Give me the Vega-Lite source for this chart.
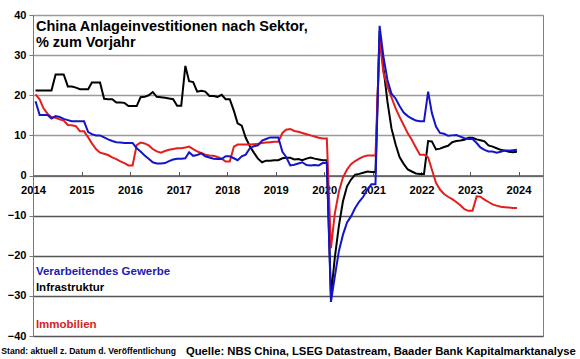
{
"$schema": "https://vega.github.io/schema/vega-lite/v6.json",
"width": 510, "height": 321,
"autosize": {"type": "none"},
"padding": {"left": 33, "top": 15, "right": 37, "bottom": 23},
"background": "white",
"config": {"view": {"stroke": "#808080", "strokeWidth": 1}, "font": "Liberation Sans"},
"datasets": {
"fai": [
{"date":"2014-01-20","sector":"Infrastruktur","pct":21.2},{"date":"2014-02-20","sector":"Infrastruktur","pct":21.2},{"date":"2014-03-20","sector":"Infrastruktur","pct":21.2},{"date":"2014-04-20","sector":"Infrastruktur","pct":21.2},{"date":"2014-05-20","sector":"Infrastruktur","pct":21.2},{"date":"2014-06-20","sector":"Infrastruktur","pct":25.2},{"date":"2014-07-20","sector":"Infrastruktur","pct":25.2},{"date":"2014-08-20","sector":"Infrastruktur","pct":25.2},{"date":"2014-09-20","sector":"Infrastruktur","pct":22.2},{"date":"2014-10-20","sector":"Infrastruktur","pct":22.2},{"date":"2014-11-20","sector":"Infrastruktur","pct":21.9},{"date":"2014-12-20","sector":"Infrastruktur","pct":21.5},
{"date":"2015-01-20","sector":"Infrastruktur","pct":21.5},{"date":"2015-02-20","sector":"Infrastruktur","pct":21.5},{"date":"2015-03-20","sector":"Infrastruktur","pct":23.2},{"date":"2015-04-20","sector":"Infrastruktur","pct":23.2},{"date":"2015-05-20","sector":"Infrastruktur","pct":23.2},{"date":"2015-06-20","sector":"Infrastruktur","pct":19.1},{"date":"2015-07-20","sector":"Infrastruktur","pct":19.0},{"date":"2015-08-20","sector":"Infrastruktur","pct":19.0},{"date":"2015-09-20","sector":"Infrastruktur","pct":18.2},{"date":"2015-10-20","sector":"Infrastruktur","pct":18.2},{"date":"2015-11-20","sector":"Infrastruktur","pct":18.1},{"date":"2015-12-20","sector":"Infrastruktur","pct":17.3},
{"date":"2016-01-20","sector":"Infrastruktur","pct":17.3},{"date":"2016-02-20","sector":"Infrastruktur","pct":17.3},{"date":"2016-03-20","sector":"Infrastruktur","pct":19.5},{"date":"2016-04-20","sector":"Infrastruktur","pct":19.6},{"date":"2016-05-20","sector":"Infrastruktur","pct":20.0},{"date":"2016-06-20","sector":"Infrastruktur","pct":20.8},{"date":"2016-07-20","sector":"Infrastruktur","pct":19.6},{"date":"2016-08-20","sector":"Infrastruktur","pct":19.5},{"date":"2016-09-20","sector":"Infrastruktur","pct":19.4},{"date":"2016-10-20","sector":"Infrastruktur","pct":19.2},{"date":"2016-11-20","sector":"Infrastruktur","pct":19.0},{"date":"2016-12-20","sector":"Infrastruktur","pct":17.4},
{"date":"2017-01-20","sector":"Infrastruktur","pct":17.4},{"date":"2017-02-20","sector":"Infrastruktur","pct":27.3},{"date":"2017-03-20","sector":"Infrastruktur","pct":23.5},{"date":"2017-04-20","sector":"Infrastruktur","pct":23.3},{"date":"2017-05-20","sector":"Infrastruktur","pct":20.9},{"date":"2017-06-20","sector":"Infrastruktur","pct":21.1},{"date":"2017-07-20","sector":"Infrastruktur","pct":20.9},{"date":"2017-08-20","sector":"Infrastruktur","pct":19.8},{"date":"2017-09-20","sector":"Infrastruktur","pct":19.8},{"date":"2017-10-20","sector":"Infrastruktur","pct":19.6},{"date":"2017-11-20","sector":"Infrastruktur","pct":20.1},{"date":"2017-12-20","sector":"Infrastruktur","pct":19.0},
{"date":"2018-01-20","sector":"Infrastruktur","pct":19.0},{"date":"2018-02-20","sector":"Infrastruktur","pct":16.1},{"date":"2018-03-20","sector":"Infrastruktur","pct":13.0},{"date":"2018-04-20","sector":"Infrastruktur","pct":12.4},{"date":"2018-05-20","sector":"Infrastruktur","pct":9.4},{"date":"2018-06-20","sector":"Infrastruktur","pct":7.3},{"date":"2018-07-20","sector":"Infrastruktur","pct":5.7},{"date":"2018-08-20","sector":"Infrastruktur","pct":4.2},{"date":"2018-09-20","sector":"Infrastruktur","pct":3.3},{"date":"2018-10-20","sector":"Infrastruktur","pct":3.7},{"date":"2018-11-20","sector":"Infrastruktur","pct":3.7},{"date":"2018-12-20","sector":"Infrastruktur","pct":3.8},
{"date":"2019-01-20","sector":"Infrastruktur","pct":3.8},{"date":"2019-02-20","sector":"Infrastruktur","pct":4.3},{"date":"2019-03-20","sector":"Infrastruktur","pct":4.4},{"date":"2019-04-20","sector":"Infrastruktur","pct":4.4},{"date":"2019-05-20","sector":"Infrastruktur","pct":4.0},{"date":"2019-06-20","sector":"Infrastruktur","pct":4.1},{"date":"2019-07-20","sector":"Infrastruktur","pct":3.8},{"date":"2019-08-20","sector":"Infrastruktur","pct":4.2},{"date":"2019-09-20","sector":"Infrastruktur","pct":4.5},{"date":"2019-10-20","sector":"Infrastruktur","pct":4.2},{"date":"2019-11-20","sector":"Infrastruktur","pct":4.0},{"date":"2019-12-20","sector":"Infrastruktur","pct":3.8},
{"date":"2020-01-20","sector":"Infrastruktur","pct":3.8},{"date":"2020-02-20","sector":"Infrastruktur","pct":-30.0},{"date":"2020-03-20","sector":"Infrastruktur","pct":-20.5},{"date":"2020-04-20","sector":"Infrastruktur","pct":-12.5},{"date":"2020-05-20","sector":"Infrastruktur","pct":-6.5},{"date":"2020-06-20","sector":"Infrastruktur","pct":-2.7},{"date":"2020-07-20","sector":"Infrastruktur","pct":-1.0},{"date":"2020-08-20","sector":"Infrastruktur","pct":0.2},{"date":"2020-09-20","sector":"Infrastruktur","pct":0.4},{"date":"2020-10-20","sector":"Infrastruktur","pct":0.7},{"date":"2020-11-20","sector":"Infrastruktur","pct":1.0},{"date":"2020-12-20","sector":"Infrastruktur","pct":0.9},
{"date":"2021-01-20","sector":"Infrastruktur","pct":0.9},{"date":"2021-02-20","sector":"Infrastruktur","pct":36.0},{"date":"2021-03-20","sector":"Infrastruktur","pct":27.0},{"date":"2021-04-20","sector":"Infrastruktur","pct":18.4},{"date":"2021-05-20","sector":"Infrastruktur","pct":11.8},{"date":"2021-06-20","sector":"Infrastruktur","pct":7.8},{"date":"2021-07-20","sector":"Infrastruktur","pct":4.6},{"date":"2021-08-20","sector":"Infrastruktur","pct":2.9},{"date":"2021-09-20","sector":"Infrastruktur","pct":1.5},{"date":"2021-10-20","sector":"Infrastruktur","pct":1.0},{"date":"2021-11-20","sector":"Infrastruktur","pct":0.5},{"date":"2021-12-20","sector":"Infrastruktur","pct":0.4},
{"date":"2022-01-20","sector":"Infrastruktur","pct":0.4},{"date":"2022-02-20","sector":"Infrastruktur","pct":8.6},{"date":"2022-03-20","sector":"Infrastruktur","pct":8.5},{"date":"2022-04-20","sector":"Infrastruktur","pct":6.5},{"date":"2022-05-20","sector":"Infrastruktur","pct":6.7},{"date":"2022-06-20","sector":"Infrastruktur","pct":7.1},{"date":"2022-07-20","sector":"Infrastruktur","pct":7.4},{"date":"2022-08-20","sector":"Infrastruktur","pct":8.3},{"date":"2022-09-20","sector":"Infrastruktur","pct":8.6},{"date":"2022-10-20","sector":"Infrastruktur","pct":8.7},{"date":"2022-11-20","sector":"Infrastruktur","pct":8.9},{"date":"2022-12-20","sector":"Infrastruktur","pct":9.4},
{"date":"2023-01-20","sector":"Infrastruktur","pct":9.4},{"date":"2023-02-20","sector":"Infrastruktur","pct":9.0},{"date":"2023-03-20","sector":"Infrastruktur","pct":8.8},{"date":"2023-04-20","sector":"Infrastruktur","pct":8.5},{"date":"2023-05-20","sector":"Infrastruktur","pct":7.5},{"date":"2023-06-20","sector":"Infrastruktur","pct":7.2},{"date":"2023-07-20","sector":"Infrastruktur","pct":6.8},{"date":"2023-08-20","sector":"Infrastruktur","pct":6.4},{"date":"2023-09-20","sector":"Infrastruktur","pct":6.2},{"date":"2023-10-20","sector":"Infrastruktur","pct":5.9},{"date":"2023-11-20","sector":"Infrastruktur","pct":5.8},{"date":"2023-12-20","sector":"Infrastruktur","pct":5.9},
{"date":"2014-01-20","sector":"Immobilien","pct":20.2},{"date":"2014-02-20","sector":"Immobilien","pct":19.0},{"date":"2014-03-20","sector":"Immobilien","pct":16.8},{"date":"2014-04-20","sector":"Immobilien","pct":15.4},{"date":"2014-05-20","sector":"Immobilien","pct":14.6},{"date":"2014-06-20","sector":"Immobilien","pct":14.4},{"date":"2014-07-20","sector":"Immobilien","pct":14.0},{"date":"2014-08-20","sector":"Immobilien","pct":13.7},{"date":"2014-09-20","sector":"Immobilien","pct":12.6},{"date":"2014-10-20","sector":"Immobilien","pct":12.5},{"date":"2014-11-20","sector":"Immobilien","pct":12.3},{"date":"2014-12-20","sector":"Immobilien","pct":11.0},
{"date":"2015-01-20","sector":"Immobilien","pct":11.0},{"date":"2015-02-20","sector":"Immobilien","pct":9.5},{"date":"2015-03-20","sector":"Immobilien","pct":8.0},{"date":"2015-04-20","sector":"Immobilien","pct":6.6},{"date":"2015-05-20","sector":"Immobilien","pct":5.7},{"date":"2015-06-20","sector":"Immobilien","pct":5.4},{"date":"2015-07-20","sector":"Immobilien","pct":5.1},{"date":"2015-08-20","sector":"Immobilien","pct":4.5},{"date":"2015-09-20","sector":"Immobilien","pct":4.1},{"date":"2015-10-20","sector":"Immobilien","pct":3.5},{"date":"2015-11-20","sector":"Immobilien","pct":3.1},{"date":"2015-12-20","sector":"Immobilien","pct":2.5},
{"date":"2016-01-20","sector":"Immobilien","pct":2.5},{"date":"2016-02-20","sector":"Immobilien","pct":7.6},{"date":"2016-03-20","sector":"Immobilien","pct":8.2},{"date":"2016-04-20","sector":"Immobilien","pct":8.0},{"date":"2016-05-20","sector":"Immobilien","pct":7.5},{"date":"2016-06-20","sector":"Immobilien","pct":6.6},{"date":"2016-07-20","sector":"Immobilien","pct":6.0},{"date":"2016-08-20","sector":"Immobilien","pct":5.7},{"date":"2016-09-20","sector":"Immobilien","pct":6.1},{"date":"2016-10-20","sector":"Immobilien","pct":6.4},{"date":"2016-11-20","sector":"Immobilien","pct":6.6},{"date":"2016-12-20","sector":"Immobilien","pct":6.8},
{"date":"2017-01-20","sector":"Immobilien","pct":6.8},{"date":"2017-02-20","sector":"Immobilien","pct":7.0},{"date":"2017-03-20","sector":"Immobilien","pct":7.2},{"date":"2017-04-20","sector":"Immobilien","pct":6.6},{"date":"2017-05-20","sector":"Immobilien","pct":6.0},{"date":"2017-06-20","sector":"Immobilien","pct":5.6},{"date":"2017-07-20","sector":"Immobilien","pct":5.2},{"date":"2017-08-20","sector":"Immobilien","pct":5.0},{"date":"2017-09-20","sector":"Immobilien","pct":4.9},{"date":"2017-10-20","sector":"Immobilien","pct":4.6},{"date":"2017-11-20","sector":"Immobilien","pct":4.2},{"date":"2017-12-20","sector":"Immobilien","pct":3.5},
{"date":"2018-01-20","sector":"Immobilien","pct":3.5},{"date":"2018-02-20","sector":"Immobilien","pct":7.2},{"date":"2018-03-20","sector":"Immobilien","pct":7.7},{"date":"2018-04-20","sector":"Immobilien","pct":7.7},{"date":"2018-05-20","sector":"Immobilien","pct":7.7},{"date":"2018-06-20","sector":"Immobilien","pct":7.7},{"date":"2018-07-20","sector":"Immobilien","pct":7.8},{"date":"2018-08-20","sector":"Immobilien","pct":7.9},{"date":"2018-09-20","sector":"Immobilien","pct":8.1},{"date":"2018-10-20","sector":"Immobilien","pct":8.2},{"date":"2018-11-20","sector":"Immobilien","pct":8.3},{"date":"2018-12-20","sector":"Immobilien","pct":8.4},
{"date":"2019-01-20","sector":"Immobilien","pct":8.4},{"date":"2019-02-20","sector":"Immobilien","pct":10.6},{"date":"2019-03-20","sector":"Immobilien","pct":11.4},{"date":"2019-04-20","sector":"Immobilien","pct":11.6},{"date":"2019-05-20","sector":"Immobilien","pct":11.1},{"date":"2019-06-20","sector":"Immobilien","pct":10.9},{"date":"2019-07-20","sector":"Immobilien","pct":10.6},{"date":"2019-08-20","sector":"Immobilien","pct":10.3},{"date":"2019-09-20","sector":"Immobilien","pct":10.0},{"date":"2019-10-20","sector":"Immobilien","pct":9.7},{"date":"2019-11-20","sector":"Immobilien","pct":9.4},{"date":"2019-12-20","sector":"Immobilien","pct":9.2},
{"date":"2020-01-20","sector":"Immobilien","pct":9.2},{"date":"2020-02-20","sector":"Immobilien","pct":-18.1},{"date":"2020-03-20","sector":"Immobilien","pct":-9.5},{"date":"2020-04-20","sector":"Immobilien","pct":-4.0},{"date":"2020-05-20","sector":"Immobilien","pct":-0.5},{"date":"2020-06-20","sector":"Immobilien","pct":1.5},{"date":"2020-07-20","sector":"Immobilien","pct":2.8},{"date":"2020-08-20","sector":"Immobilien","pct":3.6},{"date":"2020-09-20","sector":"Immobilien","pct":4.2},{"date":"2020-10-20","sector":"Immobilien","pct":4.7},{"date":"2020-11-20","sector":"Immobilien","pct":5.0},{"date":"2020-12-20","sector":"Immobilien","pct":5.0},
{"date":"2021-01-20","sector":"Immobilien","pct":5.0},{"date":"2021-02-20","sector":"Immobilien","pct":34.0},{"date":"2021-03-20","sector":"Immobilien","pct":25.7},{"date":"2021-04-20","sector":"Immobilien","pct":22.2},{"date":"2021-05-20","sector":"Immobilien","pct":19.5},{"date":"2021-06-20","sector":"Immobilien","pct":16.8},{"date":"2021-07-20","sector":"Immobilien","pct":14.6},{"date":"2021-08-20","sector":"Immobilien","pct":12.6},{"date":"2021-09-20","sector":"Immobilien","pct":10.5},{"date":"2021-10-20","sector":"Immobilien","pct":8.9},{"date":"2021-11-20","sector":"Immobilien","pct":7.0},{"date":"2021-12-20","sector":"Immobilien","pct":5.2},
{"date":"2022-01-20","sector":"Immobilien","pct":5.2},{"date":"2022-02-20","sector":"Immobilien","pct":4.5},{"date":"2022-03-20","sector":"Immobilien","pct":1.5},{"date":"2022-04-20","sector":"Immobilien","pct":-1.8},{"date":"2022-05-20","sector":"Immobilien","pct":-3.5},{"date":"2022-06-20","sector":"Immobilien","pct":-4.6},{"date":"2022-07-20","sector":"Immobilien","pct":-5.3},{"date":"2022-08-20","sector":"Immobilien","pct":-5.9},{"date":"2022-09-20","sector":"Immobilien","pct":-6.6},{"date":"2022-10-20","sector":"Immobilien","pct":-7.4},{"date":"2022-11-20","sector":"Immobilien","pct":-8.4},{"date":"2022-12-20","sector":"Immobilien","pct":-8.8},
{"date":"2023-01-20","sector":"Immobilien","pct":-8.8},{"date":"2023-02-20","sector":"Immobilien","pct":-5.2},{"date":"2023-03-20","sector":"Immobilien","pct":-5.3},{"date":"2023-04-20","sector":"Immobilien","pct":-6.0},{"date":"2023-05-20","sector":"Immobilien","pct":-6.6},{"date":"2023-06-20","sector":"Immobilien","pct":-7.2},{"date":"2023-07-20","sector":"Immobilien","pct":-7.5},{"date":"2023-08-20","sector":"Immobilien","pct":-7.8},{"date":"2023-09-20","sector":"Immobilien","pct":-7.9},{"date":"2023-10-20","sector":"Immobilien","pct":-8.0},{"date":"2023-11-20","sector":"Immobilien","pct":-8.1},{"date":"2023-12-20","sector":"Immobilien","pct":-8.1},
{"date":"2014-01-20","sector":"Verarbeitendes Gewerbe","pct":18.5},{"date":"2014-02-20","sector":"Verarbeitendes Gewerbe","pct":15.1},{"date":"2014-03-20","sector":"Verarbeitendes Gewerbe","pct":15.1},{"date":"2014-04-20","sector":"Verarbeitendes Gewerbe","pct":15.1},{"date":"2014-05-20","sector":"Verarbeitendes Gewerbe","pct":14.2},{"date":"2014-06-20","sector":"Verarbeitendes Gewerbe","pct":14.8},{"date":"2014-07-20","sector":"Verarbeitendes Gewerbe","pct":14.6},{"date":"2014-08-20","sector":"Verarbeitendes Gewerbe","pct":14.1},{"date":"2014-09-20","sector":"Verarbeitendes Gewerbe","pct":13.8},{"date":"2014-10-20","sector":"Verarbeitendes Gewerbe","pct":13.5},{"date":"2014-11-20","sector":"Verarbeitendes Gewerbe","pct":13.5},{"date":"2014-12-20","sector":"Verarbeitendes Gewerbe","pct":13.5},
{"date":"2015-01-20","sector":"Verarbeitendes Gewerbe","pct":13.5},{"date":"2015-02-20","sector":"Verarbeitendes Gewerbe","pct":10.8},{"date":"2015-03-20","sector":"Verarbeitendes Gewerbe","pct":10.3},{"date":"2015-04-20","sector":"Verarbeitendes Gewerbe","pct":10.0},{"date":"2015-05-20","sector":"Verarbeitendes Gewerbe","pct":10.0},{"date":"2015-06-20","sector":"Verarbeitendes Gewerbe","pct":9.5},{"date":"2015-07-20","sector":"Verarbeitendes Gewerbe","pct":9.0},{"date":"2015-08-20","sector":"Verarbeitendes Gewerbe","pct":8.6},{"date":"2015-09-20","sector":"Verarbeitendes Gewerbe","pct":8.3},{"date":"2015-10-20","sector":"Verarbeitendes Gewerbe","pct":8.2},{"date":"2015-11-20","sector":"Verarbeitendes Gewerbe","pct":8.1},{"date":"2015-12-20","sector":"Verarbeitendes Gewerbe","pct":8.1},
{"date":"2016-01-20","sector":"Verarbeitendes Gewerbe","pct":8.1},{"date":"2016-02-20","sector":"Verarbeitendes Gewerbe","pct":6.8},{"date":"2016-03-20","sector":"Verarbeitendes Gewerbe","pct":6.0},{"date":"2016-04-20","sector":"Verarbeitendes Gewerbe","pct":5.0},{"date":"2016-05-20","sector":"Verarbeitendes Gewerbe","pct":4.2},{"date":"2016-06-20","sector":"Verarbeitendes Gewerbe","pct":3.3},{"date":"2016-07-20","sector":"Verarbeitendes Gewerbe","pct":3.0},{"date":"2016-08-20","sector":"Verarbeitendes Gewerbe","pct":3.0},{"date":"2016-09-20","sector":"Verarbeitendes Gewerbe","pct":3.1},{"date":"2016-10-20","sector":"Verarbeitendes Gewerbe","pct":3.6},{"date":"2016-11-20","sector":"Verarbeitendes Gewerbe","pct":4.0},{"date":"2016-12-20","sector":"Verarbeitendes Gewerbe","pct":4.2},
{"date":"2017-01-20","sector":"Verarbeitendes Gewerbe","pct":4.2},{"date":"2017-02-20","sector":"Verarbeitendes Gewerbe","pct":4.3},{"date":"2017-03-20","sector":"Verarbeitendes Gewerbe","pct":5.8},{"date":"2017-04-20","sector":"Verarbeitendes Gewerbe","pct":4.9},{"date":"2017-05-20","sector":"Verarbeitendes Gewerbe","pct":5.1},{"date":"2017-06-20","sector":"Verarbeitendes Gewerbe","pct":5.5},{"date":"2017-07-20","sector":"Verarbeitendes Gewerbe","pct":4.8},{"date":"2017-08-20","sector":"Verarbeitendes Gewerbe","pct":4.5},{"date":"2017-09-20","sector":"Verarbeitendes Gewerbe","pct":4.2},{"date":"2017-10-20","sector":"Verarbeitendes Gewerbe","pct":4.1},{"date":"2017-11-20","sector":"Verarbeitendes Gewerbe","pct":4.1},{"date":"2017-12-20","sector":"Verarbeitendes Gewerbe","pct":4.8},
{"date":"2018-01-20","sector":"Verarbeitendes Gewerbe","pct":4.8},{"date":"2018-02-20","sector":"Verarbeitendes Gewerbe","pct":4.3},{"date":"2018-03-20","sector":"Verarbeitendes Gewerbe","pct":3.8},{"date":"2018-04-20","sector":"Verarbeitendes Gewerbe","pct":4.8},{"date":"2018-05-20","sector":"Verarbeitendes Gewerbe","pct":5.2},{"date":"2018-06-20","sector":"Verarbeitendes Gewerbe","pct":6.8},{"date":"2018-07-20","sector":"Verarbeitendes Gewerbe","pct":7.3},{"date":"2018-08-20","sector":"Verarbeitendes Gewerbe","pct":7.5},{"date":"2018-09-20","sector":"Verarbeitendes Gewerbe","pct":8.7},{"date":"2018-10-20","sector":"Verarbeitendes Gewerbe","pct":9.1},{"date":"2018-11-20","sector":"Verarbeitendes Gewerbe","pct":9.5},{"date":"2018-12-20","sector":"Verarbeitendes Gewerbe","pct":9.5},
{"date":"2019-01-20","sector":"Verarbeitendes Gewerbe","pct":9.5},{"date":"2019-02-20","sector":"Verarbeitendes Gewerbe","pct":5.9},{"date":"2019-03-20","sector":"Verarbeitendes Gewerbe","pct":4.6},{"date":"2019-04-20","sector":"Verarbeitendes Gewerbe","pct":2.5},{"date":"2019-05-20","sector":"Verarbeitendes Gewerbe","pct":2.7},{"date":"2019-06-20","sector":"Verarbeitendes Gewerbe","pct":3.0},{"date":"2019-07-20","sector":"Verarbeitendes Gewerbe","pct":3.3},{"date":"2019-08-20","sector":"Verarbeitendes Gewerbe","pct":2.6},{"date":"2019-09-20","sector":"Verarbeitendes Gewerbe","pct":2.5},{"date":"2019-10-20","sector":"Verarbeitendes Gewerbe","pct":2.6},{"date":"2019-11-20","sector":"Verarbeitendes Gewerbe","pct":2.5},{"date":"2019-12-20","sector":"Verarbeitendes Gewerbe","pct":3.1},
{"date":"2020-01-20","sector":"Verarbeitendes Gewerbe","pct":3.1},{"date":"2020-02-20","sector":"Verarbeitendes Gewerbe","pct":-31.5},{"date":"2020-03-20","sector":"Verarbeitendes Gewerbe","pct":-25.2},{"date":"2020-04-20","sector":"Verarbeitendes Gewerbe","pct":-18.8},{"date":"2020-05-20","sector":"Verarbeitendes Gewerbe","pct":-14.8},{"date":"2020-06-20","sector":"Verarbeitendes Gewerbe","pct":-11.7},{"date":"2020-07-20","sector":"Verarbeitendes Gewerbe","pct":-10.2},{"date":"2020-08-20","sector":"Verarbeitendes Gewerbe","pct":-8.1},{"date":"2020-09-20","sector":"Verarbeitendes Gewerbe","pct":-6.5},{"date":"2020-10-20","sector":"Verarbeitendes Gewerbe","pct":-5.3},{"date":"2020-11-20","sector":"Verarbeitendes Gewerbe","pct":-3.5},{"date":"2020-12-20","sector":"Verarbeitendes Gewerbe","pct":-2.2},
{"date":"2021-01-20","sector":"Verarbeitendes Gewerbe","pct":-2.2},{"date":"2021-02-20","sector":"Verarbeitendes Gewerbe","pct":37.3},{"date":"2021-03-20","sector":"Verarbeitendes Gewerbe","pct":29.8},{"date":"2021-04-20","sector":"Verarbeitendes Gewerbe","pct":23.8},{"date":"2021-05-20","sector":"Verarbeitendes Gewerbe","pct":20.4},{"date":"2021-06-20","sector":"Verarbeitendes Gewerbe","pct":19.2},{"date":"2021-07-20","sector":"Verarbeitendes Gewerbe","pct":17.3},{"date":"2021-08-20","sector":"Verarbeitendes Gewerbe","pct":15.7},{"date":"2021-09-20","sector":"Verarbeitendes Gewerbe","pct":14.8},{"date":"2021-10-20","sector":"Verarbeitendes Gewerbe","pct":14.2},{"date":"2021-11-20","sector":"Verarbeitendes Gewerbe","pct":13.7},{"date":"2021-12-20","sector":"Verarbeitendes Gewerbe","pct":13.5},
{"date":"2022-01-20","sector":"Verarbeitendes Gewerbe","pct":13.5},{"date":"2022-02-20","sector":"Verarbeitendes Gewerbe","pct":20.9},{"date":"2022-03-20","sector":"Verarbeitendes Gewerbe","pct":15.6},{"date":"2022-04-20","sector":"Verarbeitendes Gewerbe","pct":12.2},{"date":"2022-05-20","sector":"Verarbeitendes Gewerbe","pct":10.6},{"date":"2022-06-20","sector":"Verarbeitendes Gewerbe","pct":10.4},{"date":"2022-07-20","sector":"Verarbeitendes Gewerbe","pct":9.9},{"date":"2022-08-20","sector":"Verarbeitendes Gewerbe","pct":10.0},{"date":"2022-09-20","sector":"Verarbeitendes Gewerbe","pct":10.1},{"date":"2022-10-20","sector":"Verarbeitendes Gewerbe","pct":9.7},{"date":"2022-11-20","sector":"Verarbeitendes Gewerbe","pct":9.3},{"date":"2022-12-20","sector":"Verarbeitendes Gewerbe","pct":9.1},
{"date":"2023-01-20","sector":"Verarbeitendes Gewerbe","pct":9.1},{"date":"2023-02-20","sector":"Verarbeitendes Gewerbe","pct":8.1},{"date":"2023-03-20","sector":"Verarbeitendes Gewerbe","pct":7.0},{"date":"2023-04-20","sector":"Verarbeitendes Gewerbe","pct":6.4},{"date":"2023-05-20","sector":"Verarbeitendes Gewerbe","pct":6.0},{"date":"2023-06-20","sector":"Verarbeitendes Gewerbe","pct":6.0},{"date":"2023-07-20","sector":"Verarbeitendes Gewerbe","pct":5.7},{"date":"2023-08-20","sector":"Verarbeitendes Gewerbe","pct":5.9},{"date":"2023-09-20","sector":"Verarbeitendes Gewerbe","pct":6.2},{"date":"2023-10-20","sector":"Verarbeitendes Gewerbe","pct":6.2},{"date":"2023-11-20","sector":"Verarbeitendes Gewerbe","pct":6.3},{"date":"2023-12-20","sector":"Verarbeitendes Gewerbe","pct":6.4}
]
},
"layer": [
{
"data": {"name": "fai"},
"mark": {"type": "line", "strokeWidth": 2},
"encoding": {
"x": {"field": "date", "type": "temporal",
 "scale": {"type": "utc", "domain": [{"year": 2014, "month": 1, "date": 1, "utc": true}, {"year": 2024, "month": 7, "date": 3, "utc": true}]},
 "axis": {"title": null, "values": [{"year":2014,"utc":true},{"year":2015,"utc":true},{"year":2016,"utc":true},{"year":2017,"utc":true},{"year":2018,"utc":true},{"year":2019,"utc":true},{"year":2020,"utc":true},{"year":2021,"utc":true},{"year":2022,"utc":true},{"year":2023,"utc":true},{"year":2024,"utc":true}],
  "format": "%Y", "formatType": "utc", "offset": -160.5, "grid": false,
  "domainColor": "#555555", "domainWidth": 1.5, "tickSize": -4, "tickColor": "#555555", "tickWidth": 1,
  "labelPadding": 13, "labelFont": "Liberation Sans", "labelFontSize": 11.2, "labelFontWeight": "bold", "labelColor": "#000000", "labelFlush": false, "labelOverlap": false}},
"y": {"field": "pct", "type": "quantitative",
 "scale": {"domain": [-40, 40], "nice": false, "zero": false},
 "axis": {"title": null, "values": [-40,-30,-20,-10,0,10,20,30,40], "grid": true,
  "gridColor": {"condition": {"test": "datum.value < 0", "value": "#555555"}, "value": "#9a9a9a"},
  "gridWidth": 1.5, "domainColor": "#777777", "tickSize": 4, "tickColor": "#777777", "labelPadding": 3,
  "labelFont": "Liberation Sans", "labelFontSize": 11, "labelFontWeight": "bold", "labelColor": "#000000", "labelFlush": false}},
"color": {"field": "sector", "type": "nominal",
 "scale": {"domain": ["Infrastruktur", "Immobilien", "Verarbeitendes Gewerbe"], "range": ["#000000", "#e41e1e", "#1515c8"]},
 "legend": null}
}
},
{
"data": {"values": [{"t": ["China Anlageinvestitionen nach Sektor,", "% zum Vorjahr"]}]},
"mark": {"type": "text", "align": "left", "baseline": "alphabetic", "fontSize": 14.5, "fontWeight": "bold", "lineHeight": 15.5, "font": "Liberation Sans", "color": "#000000"},
"encoding": {"x": {"datum": {"year": 2014, "month": 1, "date": 23, "utc": true}, "type": "temporal"}, "y": {"datum": 36.0}, "text": {"field": "t"}}
},
{
"data": {"values": [{"t": "Verarbeitendes Gewerbe"}]},
"mark": {"type": "text", "align": "left", "baseline": "alphabetic", "fontSize": 11.5, "fontWeight": "bold", "font": "Liberation Sans", "color": "#2020b0"},
"encoding": {"x": {"datum": {"year": 2014, "month": 1, "date": 23, "utc": true}, "type": "temporal"}, "y": {"datum": -24.7}, "text": {"field": "t"}}
},
{
"data": {"values": [{"t": "Infrastruktur"}]},
"mark": {"type": "text", "align": "left", "baseline": "alphabetic", "fontSize": 11.5, "fontWeight": "bold", "font": "Liberation Sans", "color": "#000000"},
"encoding": {"x": {"datum": {"year": 2014, "month": 1, "date": 23, "utc": true}, "type": "temporal"}, "y": {"datum": -28.7}, "text": {"field": "t"}}
},
{
"data": {"values": [{"t": "Immobilien"}]},
"mark": {"type": "text", "align": "left", "baseline": "alphabetic", "fontSize": 11.5, "fontWeight": "bold", "font": "Liberation Sans", "color": "#d42424"},
"encoding": {"x": {"datum": {"year": 2014, "month": 1, "date": 23, "utc": true}, "type": "temporal"}, "y": {"datum": -37.9}, "text": {"field": "t"}}
},
{
"data": {"values": [{"t": "Stand: aktuell z. Datum d. Veröffentlichung"}]},
"mark": {"type": "text", "align": "left", "baseline": "alphabetic", "fontSize": 8.6, "fontWeight": "bold", "font": "Liberation Sans", "color": "#000000"},
"encoding": {"x": {"datum": {"year": 2013, "month": 5, "date": 8, "utc": true}, "type": "temporal"}, "y": {"datum": -44.6}, "text": {"field": "t"}}
},
{
"data": {"values": [{"t": "Quelle: NBS China, LSEG Datastream, Baader Bank Kapitalmarktanalyse"}]},
"mark": {"type": "text", "align": "left", "baseline": "alphabetic", "fontSize": 11.3, "fontWeight": "bold", "font": "Liberation Sans", "color": "#000000"},
"encoding": {"x": {"datum": {"year": 2017, "month": 2, "date": 24, "utc": true}, "type": "temporal"}, "y": {"datum": -44.8}, "text": {"field": "t"}}
}
]
}
